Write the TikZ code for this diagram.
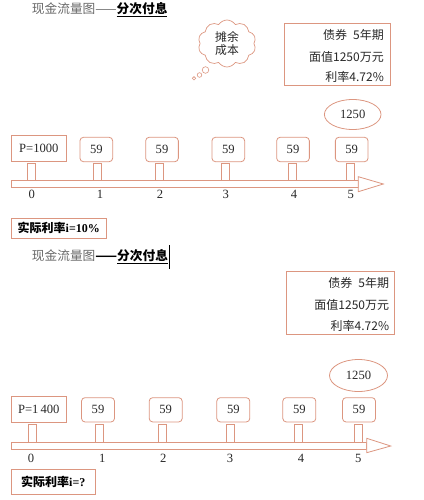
\documentclass[tikz,border=0pt]{standalone}
\usepackage{fontspec}
\setmainfont{Liberation Serif}
\newfontfamily\cjk{Noto Sans CJK SC}
\usetikzlibrary{shapes.symbols,shapes.geometric}
\definecolor{sal}{RGB}{220,150,128}
\definecolor{tgray}{RGB}{105,105,105}
\definecolor{ink}{RGB}{40,40,40}
\tikzset{
  every node/.style={font=\fontsize{12.6}{14}\selectfont, text=ink, inner sep=0pt},
  sbox/.style={draw=sal, line width=0.8pt, fill=white, rectangle},
  rbox/.style={sbox, rounded corners=3.5pt},
  stemrect/.style={draw=sal, line width=0.8pt, fill=white, rectangle, minimum width=8pt},
  barrect/.style={draw=sal, line width=0.8pt, fill=white, rectangle},
  oval/.style={draw=sal, line width=0.8pt, ellipse},
  headtri/.style={draw=sal, line width=0.8pt, fill=white, line join=miter},
  tick/.style={text=ink},
  cjkt/.style={font=\fontsize{12}{14}\selectfont\cjk},
  titlet/.style={font=\fontsize{12.7}{14}\selectfont\cjk},
}
\begin{document}
\begin{tikzpicture}[x=1pt,y=-1pt]
\useasboundingbox (0,0) rectangle (423,500);

% ---------- Section 1 ----------
\node[anchor=west, titlet, text=tgray] (title1) at (31.7,10)
  {现金流量图——{\color{black}\bfseries\underline{分次付息}}};

\node[draw=sal, line width=0.7pt, cloud, cloud puffs=10, cloud puff arc=115, aspect=1.2,
      minimum width=58pt, minimum height=47pt, align=center,
      font=\fontsize{11.8}{12.5}\selectfont\cjk] (cloud) at (227,43.5) {摊余\\成本};
\node[draw=sal, line width=0.6pt, circle, minimum size=6.6pt] (bub1) at (205.5,70) {};
\node[draw=sal, line width=0.6pt, circle, minimum size=4.6pt] (bub2) at (199.5,75) {};
\node[draw=sal, line width=0.6pt, circle, minimum size=3.4pt] (bub3) at (194,78.3) {};

\node[sbox, minimum width=106.4pt, minimum height=61.7pt] (info1) at (337.5,54.2) {};
\node[anchor=east, cjkt] (i1a) at (384,35) {债券\hspace{6pt}5年期};
\node[anchor=east, cjkt] (i1b) at (384,56.7) {面值1250万元};
\node[anchor=east, cjkt] (i1c) at (384,77.3) {利率4.72\%};

\node[oval, minimum width=56.6pt, minimum height=30pt] (e1) at (352.7,114.5) {1250};

\node[sbox, minimum width=54.3pt, minimum height=26.4pt] (p1) at (38.8,148.5) {P=1000};
\node[rbox, minimum width=32.7pt, minimum height=24.4pt] (a1) at (96.3,149.5) {59};
\node[rbox, minimum width=32.7pt, minimum height=24.4pt] (a2) at (162,149.5) {59};
\node[rbox, minimum width=32.7pt, minimum height=24.4pt] (a3) at (228.3,149.5) {59};
\node[rbox, minimum width=32.7pt, minimum height=24.4pt] (a4) at (293,149.5) {59};
\node[rbox, minimum width=32.7pt, minimum height=24.4pt] (a5) at (351.7,149.5) {59};

\node[stemrect, minimum height=16.7pt] (s0) at (31.5,171.7) {};
\node[stemrect, minimum height=16.7pt] (s1) at (97.8,171.7) {};
\node[stemrect, minimum height=16.7pt] (s2) at (159.7,171.7) {};
\node[stemrect, minimum height=16.7pt] (s3) at (225.7,171.7) {};
\node[stemrect, minimum height=16.7pt] (s4) at (292.5,171.7) {};
\node[stemrect, minimum height=16.7pt] (s5) at (350.8,171.7) {};

\node[barrect, minimum width=346.6pt, minimum height=7pt] (bar1) at (185,183.5) {};
\coordinate (h1a) at (358.3,176.7);
\coordinate (h1b) at (383.3,184);
\coordinate (h1c) at (358.3,191.7);
\draw[headtri] (h1a) -- (h1b) -- (h1c) -- cycle;

\node[tick] (t10) at (31.7,194) {0};
\node[tick] (t11) at (100,194) {1};
\node[tick] (t12) at (160,194) {2};
\node[tick] (t13) at (225.7,194) {3};
\node[tick] (t14) at (294,194) {4};
\node[tick] (t15) at (350.7,194) {5};

\node[sbox, minimum width=94.3pt, minimum height=20pt, text=black, font=\fontsize{12}{14}\selectfont] (r1) at (58.8,228.3)
  {{\cjk\bfseries 实际利率}\textbf{i=10\%}};

% ---------- Section 2 ----------
\node[anchor=west, titlet, text=tgray] (title2) at (31.7,256.7)
  {现金流量图{\color{black}\bfseries ——\underline{分次付息}}};
\coordinate (cur1) at ([xshift=0.8pt]title2.east |- 0,245);
\coordinate (cur2) at ([xshift=0.8pt]title2.east |- 0,269);
\draw[black, line width=0.7pt] (cur1) -- (cur2);

\node[sbox, minimum width=108pt, minimum height=62.7pt] (info2) at (340,303) {};
\node[anchor=east, cjkt] (i2a) at (389.3,283.3) {债券\hspace{6pt}5年期};
\node[anchor=east, cjkt] (i2b) at (389.3,305) {面值1250万元};
\node[anchor=east, cjkt] (i2c) at (389.3,325.7) {利率4.72\%};

\node[oval, minimum width=58pt, minimum height=32pt] (e2) at (358.5,375.5) {1250};

\node[sbox, minimum width=55.7pt, minimum height=26pt] (p2) at (38.8,409) {P=1\,400};
\node[rbox, minimum width=33pt, minimum height=24.3pt] (b1) at (98,409.8) {59};
\node[rbox, minimum width=33pt, minimum height=24.3pt] (b2) at (165.7,409.8) {59};
\node[rbox, minimum width=33pt, minimum height=24.3pt] (b3) at (233.3,409.8) {59};
\node[rbox, minimum width=33pt, minimum height=24.3pt] (b4) at (299.3,409.8) {59};
\node[rbox, minimum width=33pt, minimum height=24.3pt] (b5) at (359,409.8) {59};

\node[stemrect, minimum height=18pt] (u0) at (32,433.3) {};
\node[stemrect, minimum height=18pt] (u1) at (99.7,433.3) {};
\node[stemrect, minimum height=18pt] (u2) at (162.7,433.3) {};
\node[stemrect, minimum height=18pt] (u3) at (230.7,433.3) {};
\node[stemrect, minimum height=18pt] (u4) at (298.7,433.3) {};
\node[stemrect, minimum height=18pt] (u5) at (358.3,433.3) {};

\node[barrect, minimum width=355pt, minimum height=6.7pt] (bar2) at (189.2,445.7) {};
\coordinate (h2a) at (366.7,438.3);
\coordinate (h2b) at (390.7,446);
\coordinate (h2c) at (366.7,452.7);
\draw[headtri] (h2a) -- (h2b) -- (h2c) -- cycle;

\node[tick] (t20) at (31,458.5) {0};
\node[tick] (t21) at (102.3,458.5) {1};
\node[tick] (t22) at (163.3,458.5) {2};
\node[tick] (t23) at (230,458.5) {3};
\node[tick] (t24) at (301,458.5) {4};
\node[tick] (t25) at (358.3,458.5) {5};

\node[sbox, minimum width=84.7pt, minimum height=24.7pt, text=black, font=\fontsize{12}{14}\selectfont] (r2) at (53.3,481.7)
  {{\cjk\bfseries 实际利率}\textbf{i=?}};
\end{tikzpicture}
\end{document}
